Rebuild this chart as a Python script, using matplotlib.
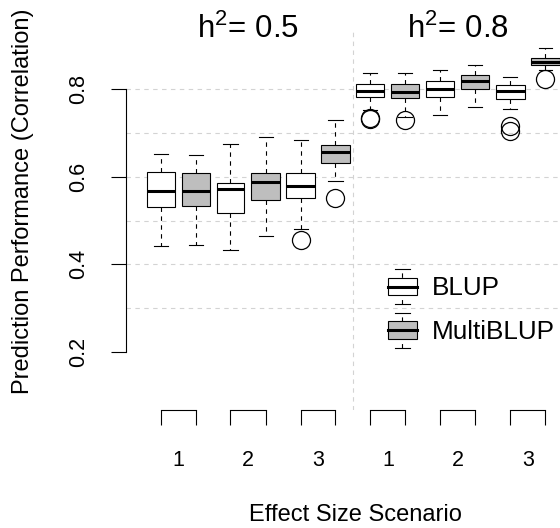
import numpy as np
import matplotlib
matplotlib.use('Agg')
import matplotlib.pyplot as plt
from matplotlib.legend_handler import HandlerBase
from matplotlib.lines import Line2D
from matplotlib.patches import Rectangle

plt.rcParams['font.family'] = ['Liberation Sans', 'DejaVu Sans']
plt.rcParams['mathtext.fontset'] = 'custom'
plt.rcParams['mathtext.rm'] = 'Liberation Sans'

# boxes in plot order: h2=0.5 (scenario 1..3, BLUP then MultiBLUP), then h2=0.8
heritability = ['0.5', '0.8']
scenarios = ['1', '2', '3']
methods = ['BLUP', 'MultiBLUP']
method_colors = ['white', '#bebebe']

whis_hi = [0.652, 0.649, 0.675, 0.691, 0.684, 0.728, 0.836, 0.837, 0.843, 0.855, 0.828, 0.893]
q3 = [0.611, 0.608, 0.586, 0.608, 0.608, 0.671, 0.811, 0.811, 0.819, 0.832, 0.809, 0.870]
med = [0.568, 0.567, 0.571, 0.588, 0.579, 0.657, 0.796, 0.794, 0.799, 0.819, 0.795, 0.862]
q1 = [0.530, 0.532, 0.518, 0.547, 0.552, 0.630, 0.782, 0.779, 0.782, 0.800, 0.776, 0.855]
whis_lo = [0.442, 0.444, 0.433, 0.465, 0.480, 0.591, 0.752, 0.735, 0.741, 0.758, 0.754, 0.842]
outliers = [[], [], [], [], [0.456], [0.551],
            [0.734, 0.731], [0.729], [], [], [0.716, 0.703], [0.822]]

grid_levels = [0.3, 0.4, 0.5, 0.6, 0.7, 0.8]
y_ticks = [0.2, 0.4, 0.6, 0.8]


class BoxHandler(HandlerBase):
    # little boxplot glyph for the legend
    def create_artists(self, legend, orig_handle, xdescent, ydescent,
                       width, height, fontsize, trans):
        x0, y0 = -xdescent, -ydescent
        xc = x0 + width / 2
        arts = [Line2D([xc, xc], [y0, y0 + height], color='black', lw=0.8, ls=(0, (4, 4)))]
        for yy in (y0, y0 + height):
            arts.append(Line2D([xc - width / 4, xc + width / 4], [yy, yy], color='black', lw=0.8))
        arts.append(Rectangle((x0, y0 + 0.25 * height), width, 0.5 * height,
                              facecolor=orig_handle.get_facecolor(), edgecolor='black', lw=0.8))
        arts.append(Line2D([x0, x0 + width], [y0 + height / 2] * 2, color='black', lw=2.2))
        for a in arts:
            a.set_transform(trans)
        return arts


n = len(med)
pos = np.arange(1, n + 1)
stats = [dict(med=med[i], q1=q1[i], q3=q3[i], whislo=whis_lo[i], whishi=whis_hi[i],
              fliers=outliers[i]) for i in range(n)]

fig = plt.figure(figsize=(5.6, 5.28), dpi=100)
ax = fig.add_axes([126.2 / 560, 118 / 528, 453.6 / 560, 379 / 528])
ax.set_xlim(0.02, 12.98)
ax.set_ylim(0.068, 0.932)

for g in grid_levels:
    ax.axhline(g, color='#d3d3d3', lw=0.8, ls=(0, (4, 4)), zorder=0)
ax.axvline(6.5, color='#d3d3d3', lw=0.8, ls=(0, (4, 4)), zorder=0)

bp = ax.bxp(stats, positions=pos, widths=0.8, patch_artist=True, manage_ticks=False,
            boxprops=dict(edgecolor='black', linewidth=0.8),
            medianprops=dict(color='black', linewidth=2.2),
            whiskerprops=dict(color='black', linewidth=0.8, linestyle=(0, (4, 4))),
            capprops=dict(color='black', linewidth=0.8),
            flierprops=dict(marker='o', markersize=13, markerfacecolor='none',
                            markeredgecolor='black', markeredgewidth=0.9))
for i, patch in enumerate(bp['boxes']):
    patch.set_facecolor(method_colors[i % 2])

for s in ['top', 'right', 'bottom']:
    ax.spines[s].set_visible(False)
ax.spines['left'].set_bounds(0.2, 0.8)
ax.spines['left'].set_linewidth(0.8)
ax.set_yticks(y_ticks)
ax.set_yticklabels([f'{v:.1f}' for v in y_ticks])
ax.tick_params(axis='y', length=10.8, width=0.8, labelsize=15.5, labelrotation=90, pad=16)
for lab in ax.get_yticklabels():
    lab.set_va('center')

# x axis: one bracket per scenario pair
pair_centers = [(pos[2 * k] + pos[2 * k + 1]) / 2 for k in range(n // 2)]
ax.set_xticks(pair_centers)
ax.set_xticklabels(scenarios * len(heritability))
ax.set_xticks(pos, minor=True)
ax.tick_params(axis='x', which='major', length=0, labelsize=15.5, pad=29)
ax.tick_params(axis='x', which='minor', length=10.8, width=0.8, direction='out')
for k in range(n // 2):
    ax.plot([pos[2 * k], pos[2 * k + 1]], [0, 0], color='black', lw=0.8,
            transform=ax.get_xaxis_transform(), clip_on=False)

for j, h in enumerate(heritability):
    xc = pos[6 * j:6 * j + 6].mean()
    ax.text(xc, 0.916, r'$\mathregular{h^2}$= ' + h, ha='center', va='baseline', fontsize=22.5)

handles = [Rectangle((0, 0), 1, 1, facecolor=c) for c in method_colors]
ax.legend(handles, methods, handler_map={Rectangle: BoxHandler()}, loc='upper left',
          bbox_to_anchor=(388 / 560, 1 - 269 / 528), bbox_transform=fig.transFigure,
          frameon=False, fontsize=18.8, handlelength=1.11, handleheight=1.69,
          handletextpad=0.575, labelspacing=0.326, borderpad=0, borderaxespad=0)

fig.text(23.5 / 560, 1 - 201 / 528, 'Prediction Performance (Correlation)', rotation=90,
         ha='center', va='center', fontsize=17)
fig.text(355 / 560, 2 / 528, 'Effect Size Scenario', ha='center', va='bottom', fontsize=17)

fig.savefig('out.png', dpi=100)
